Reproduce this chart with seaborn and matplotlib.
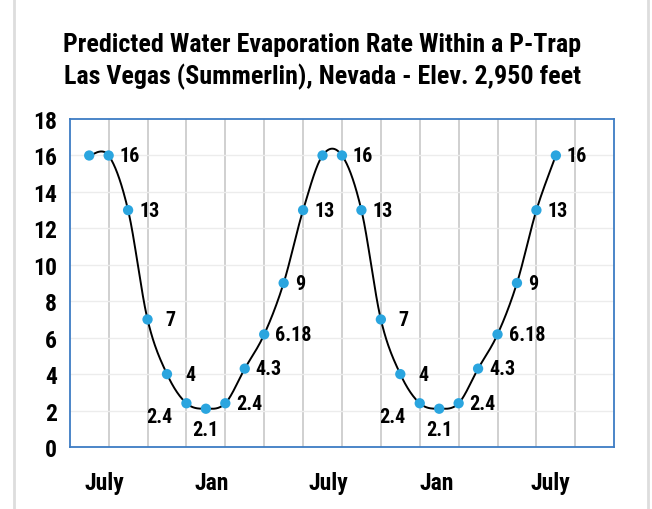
import matplotlib
matplotlib.use("Agg")
import matplotlib.pyplot as plt
from matplotlib.lines import Line2D
import seaborn as sns
import numpy as np
import pandas as pd

# monthly evaporation values (two full cycles)
month_pos = [0.5, 1.0, 1.5, 2.0, 2.5, 3.0, 3.5, 4.0, 4.5, 5.0, 5.5, 6.0, 6.5,
             7.0, 7.5, 8.0, 8.5, 9.0, 9.5, 10.0, 10.5, 11.0, 11.5, 12.0, 12.5]
rate = [16, 16, 13, 7, 4, 2.4, 2.1, 2.4, 4.3, 6.18, 9, 13, 16,
        16, 13, 7, 4, 2.4, 2.1, 2.4, 4.3, 6.18, 9, 13, 16]
labels = ["", "16", "13", "7", "4", "2.4", "2.1", "2.4", "4.3", "6.18", "9", "13", "",
          "16", "13", "7", "4", "2.4", "2.1", "2.4", "4.3", "6.18", "9", "13", "16"]
month_ticks = [0.88, 3.66, 6.66, 9.44, 12.36]
month_names = ["July", "Jan", "July", "Jan", "July"]

title = ("Predicted Water Evaporation Rate Within a P-Trap\n"
         "Las Vegas (Summerlin), Nevada - Elev. 2,950 feet")

# label placement: (dx px, dy px, ha)
right = (11, 0, "left")
far_right = (18, 0, "left")
lower_left = (-27, -13, "center")
below = (0, -21, "center")
label_pos = [None, right, right, far_right, far_right, lower_left, below, right,
             right, right, right, right, None,
             right, right, far_right, far_right, lower_left, below, right,
             right, right, right, right, right]


def smooth(xs, ys, n=30):
    # Excel-like smoothed line (Catmull-Rom as cubic Bezier)
    P = np.column_stack([xs, ys]).astype(float)
    P = np.vstack([P[0], P, P[-1]])
    out = []
    t = np.linspace(0, 1, n)[:, None]
    for i in range(1, len(P) - 2):
        p0, p1, p2, p3 = P[i - 1], P[i], P[i + 1], P[i + 2]
        c1 = p1 + (p2 - p0) / 6
        c2 = p2 - (p3 - p1) / 6
        seg = ((1 - t) ** 3) * p1 + 3 * ((1 - t) ** 2) * t * c1 + 3 * (1 - t) * t ** 2 * c2 + t ** 3 * p2
        out.append(seg)
    out = np.vstack(out)
    return out[:, 0], out[:, 1]


sns.set_style("white")
plt.rcParams['font.family'] = ['Roboto Condensed', 'DejaVu Sans']
plt.rcParams['font.weight'] = 'heavy'
plt.rcParams['text.color'] = 'black'
plt.rcParams['xtick.color'] = 'black'
plt.rcParams['ytick.color'] = 'black'

fig = plt.figure(figsize=(6.52, 5.10), dpi=100)
ax = fig.add_axes([0.107, 0.1216, 0.835, 0.643])

for xv in range(1, 14):
    ax.axvline(xv, color="#c4c4c4", lw=1.1, zorder=0)
for yv in range(2, 18, 2):
    ax.axhline(yv, color="#ececec", lw=1, zorder=0)

sx, sy = smooth(month_pos, rate)
curve = pd.DataFrame({"x": sx, "y": sy})
sns.lineplot(data=curve, x="x", y="y", sort=False, color="black", lw=1.4, ax=ax, zorder=2)

df = pd.DataFrame({"x": month_pos, "y": rate})
sns.scatterplot(data=df, x="x", y="y", color="#2aa5df", s=55, edgecolor="none", ax=ax, zorder=3)

for xv, yv, lab, pos in zip(month_pos, rate, labels, label_pos):
    if not lab:
        continue
    dx, dy, ha = pos
    ax.annotate(lab, (xv, yv), xytext=(dx, dy), textcoords="offset pixels",
                ha=ha, va="center", fontsize=14.5, fontweight="heavy", color="black")

ax.set_xlim(0, 14)
ax.set_ylim(0, 18)
ax.set_yticks(range(0, 19, 2))
ax.set_xticks(month_ticks)
ax.set_xticklabels(month_names)
ax.tick_params(axis="x", length=0, pad=17, labelsize=17)
ax.tick_params(axis="y", length=0, pad=9, labelsize=17)
ax.set_xlabel("")
ax.set_ylabel("")
for sp in ax.spines.values():
    sp.set_visible(True)
    sp.set_color("#3d7cc4")
    sp.set_linewidth(1.3)

fig.suptitle(title, x=0.494, y=0.936, fontsize=18.7, fontweight="heavy", linespacing=1.32)

fig.add_artist(Line2D([0.021, 0.021], [0, 1], color="#dddddd", lw=2))
fig.add_artist(Line2D([0.994, 0.994], [0, 1], color="#dddddd", lw=2))

fig.savefig("out.png", dpi=100)
